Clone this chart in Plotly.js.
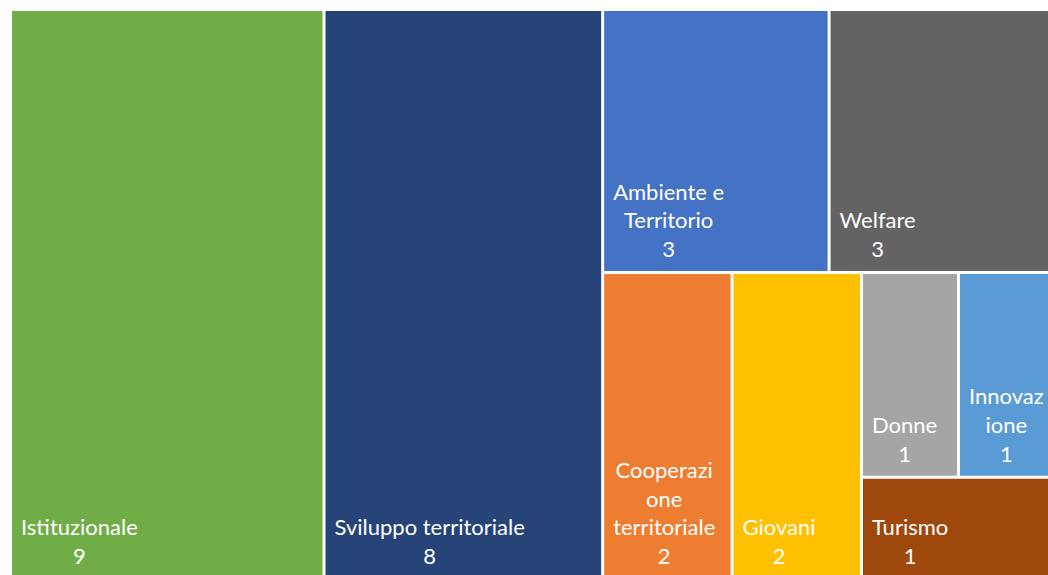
<!DOCTYPE html>
<html>
<head>
<meta charset="utf-8">
<script src="https://cdn.plot.ly/plotly-3.0.1.min.js"></script>
<style>
html, body { margin: 0; padding: 0; background: #ffffff; overflow: hidden; }
#chart { width: 1054px; height: 578px; }
</style>
</head>
<body>
<div id="chart"></div>
<script>
// Leaf categories and their counts
const categories = ["Istituzionale", "Sviluppo territoriale", "Ambiente e Territorio", "Welfare",
  "Cooperazione territoriale", "Giovani", "Donne", "Innovazione", "Turismo"];
const counts = [9, 8, 3, 3, 2, 2, 1, 1, 1];
// Labels as wrapped in the reference tiles
const tileLabels = ["Istituzionale", "Sviluppo territoriale", "Ambiente e<br>Territorio", "Welfare",
  "Cooperazi<br>one<br>territoriale", "Giovani", "Donne", "Innovaz<br>ione", "Turismo"];
const tileColors = ["#70AD47", "#264478", "#4472C4", "#636363", "#ED7D31", "#FFC000",
  "#A5A5A5", "#5B9BD5", "#9E480E"];

// Layout hierarchy (invisible grouping nodes reproduce the reference tiling)
const nodeIds = ["Istituzionale", "Sviluppo territoriale", "G1", "G2", "Ambiente e Territorio", "Welfare",
  "G3", "Cooperazione territoriale", "Giovani", "G4", "G5", "Donne", "Innovazione", "Turismo"];
const nodeParents = ["", "", "", "G1", "G2", "G2", "G1", "G3", "G3", "G3", "G4", "G5", "G5", "G4"];

const values = [], texts = [], colors = [], templates = [];
nodeIds.forEach(id => {
  const k = categories.indexOf(id);
  if (k >= 0) {
    values.push(counts[k]);
    texts.push(tileLabels[k]);
    colors.push(tileColors[k]);
    templates.push("%{text}<br>%{value}");
  } else {
    values.push(0);
    texts.push(" ");
    colors.push("#ffffff");
    templates.push(" ");
  }
});

const data = [{
  type: "treemap",
  ids: nodeIds,
  labels: nodeIds,
  parents: nodeParents,
  values: values,
  branchvalues: "remainder",
  sort: false,
  text: texts,
  texttemplate: templates,
  textposition: "bottom left",
  textfont: { family: "Lato, 'Liberation Sans', sans-serif", size: 22, color: "#ffffff" },
  hoverinfo: "none",
  tiling: { packing: "slice-dice", pad: 3 },
  marker: {
    colors: colors,
    line: { width: 0, color: "#ffffff" },
    pad: { t: 0, l: 0, r: 0, b: 0 },
    depthfade: false
  },
  leaf: { opacity: 1 },
  pathbar: { visible: false },
  root: { color: "#ffffff" }
}];

const layout = {
  width: 1054,
  height: 578,
  margin: { l: 12, r: 0, t: 11, b: 0 },
  paper_bgcolor: "#ffffff",
  uniformtext: { mode: "show", minsize: 22 },
  showlegend: false
};

const gd = document.getElementById("chart");
Plotly.newPlot(gd, data, layout, { staticPlot: true, displayModeBar: false }).then(() => {
  gd.querySelectorAll("text.slicetext").forEach(t => {
    const bb = t.getBBox();
    if (!bb.width) return;
    const cx = bb.x + bb.width / 2 + 6;
    const y = (parseFloat(t.getAttribute("y")) || 0) - 6;
    t.setAttribute("text-anchor", "middle");
    t.setAttribute("x", cx);
    t.setAttribute("y", y);
    t.querySelectorAll("tspan.line").forEach(s => { s.setAttribute("x", cx); s.setAttribute("y", y); });
  });
});
</script>
</body>
</html>
